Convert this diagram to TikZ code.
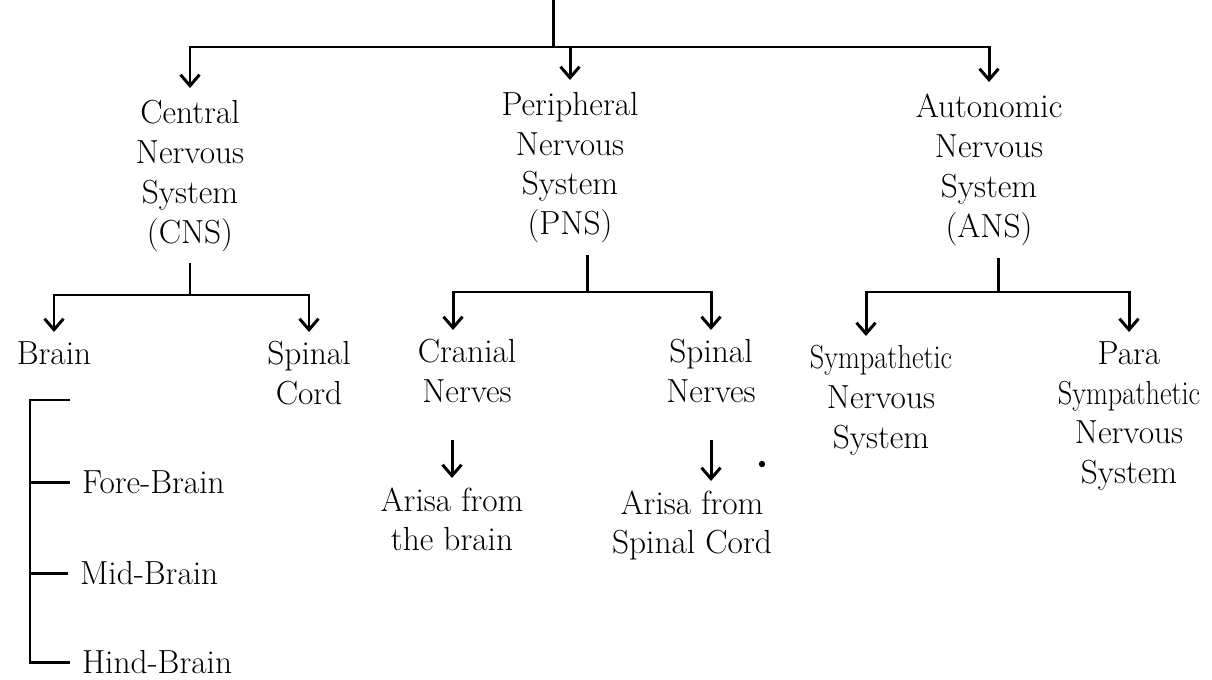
\documentclass[tikz,border=0pt]{standalone}
\usepackage{graphicx}
\usetikzlibrary{arrows.meta}
\newcommand{\cond}[1]{\scalebox{0.85}[1]{#1}}

\begin{document}
\begin{tikzpicture}[x=0.02cm,y=-0.02cm,line width=1.7pt,
    arr/.style={-{Straight Barb[length=2.2mm,width=3.8mm]}},
    sys/.style={align=center,inner xsep=2pt,inner ysep=6pt,anchor=north,
      font=\fontsize{19}{22.7}\selectfont},
    leaf/.style={sys,inner ysep=4.5pt},
    part/.style={anchor=west,inner xsep=6pt,font=\fontsize{19}{22.7}\selectfont}]
  \useasboundingbox (0,0) rectangle (1212,679);
  \coordinate (root) at (553,0);
  \coordinate (hub) at (553,47);
  \node[sys] (cns) at (190,88) {Central\\Nervous\\System\\(CNS)};
  \node[sys] (pns) at (570,80) {Peripheral\\Nervous\\System\\(PNS)};
  \node[sys] (ans) at (989,82) {Autonomic\\Nervous\\System\\(ANS)};
  \draw (root) -- (hub);
  \draw[arr] (hub) -| (cns.north);
  \draw[arr] (hub) -| (pns.north);
  \draw[arr] (hub) -| (ans.north);

  \coordinate (cnsjoin) at (190,295);
  \node[leaf] (brain) at (54,332) {Brain};
  \node[leaf] (spcord) at (309,332) {Spinal\\Cord};
  \draw (cns.south) -- (cnsjoin);
  \draw[arr] (cnsjoin) -| (brain.north);
  \draw[arr] (cnsjoin) -| (spcord.north);

  \coordinate (pnsjoin) at (587,292);
  \node[leaf] (cranial) at (467,330) {Cranial\\Nerves};
  \node[leaf] (spnerves) at (711,330) {Spinal\\Nerves};
  \draw (pnsjoin |- pns.south) -- (pnsjoin);
  \draw[arr] (pnsjoin) -| ([shift={(-14,0)}]cranial.north);
  \draw[arr] (pnsjoin) -| (spnerves.north);

  \node[leaf] (arisa1) at (452,478) {Arisa from\\the brain};
  \node[leaf] (arisa2) at (692,481) {Arisa from\\Spinal Cord};
  \draw[arr] (cranial.south -| arisa1.north) ++(0,28) -- (arisa1.north);
  \draw[arr] (spnerves.south) ++(0,28) -- (spnerves.south |- arisa2.north);
  \fill (762,464) circle[radius=1.8pt];

  \coordinate (ansjoin) at (998,292);
  \node[leaf] (symp) at (881,336) {\cond{Sympathetic}\\Nervous\\System};
  \node[leaf] (para) at (1129,332) {Para\\\cond{Sympathetic}\\Nervous\\System};
  \draw (ansjoin |- ans.south) -- (ansjoin);
  \draw[arr] (ansjoin) -| ([shift={(-15,0)}]symp.north);
  \draw[arr] (ansjoin) -| (para.north);

  \coordinate (brtop) at (30,400);
  \coordinate (brtick) at (70,400);
  \node[part] (fore) at (70,482) {Fore-Brain};
  \node[part] (mid) at (68,573) {Mid-Brain};
  \node[part] (hind) at (70,662) {Hind-Brain};
  \draw (brtick) -- (brtop) |- (hind.west);
  \draw (brtop |- fore.west) -- (fore.west);
  \draw (brtop |- mid.west) -- (mid.west);
\end{tikzpicture}
\end{document}
